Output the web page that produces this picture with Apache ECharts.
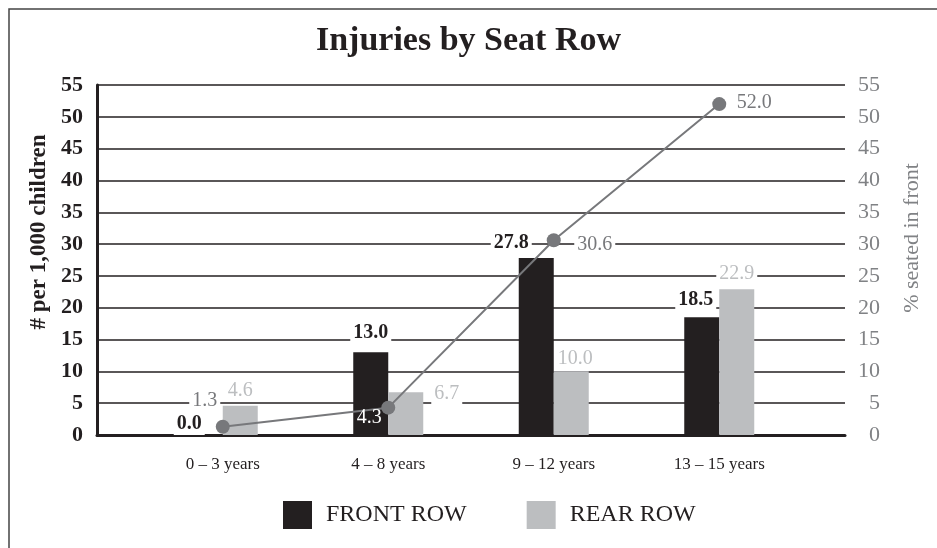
<!DOCTYPE html>
<html lang="en">
<head>
    <meta charset="utf-8">
    <title>Injuries by Seat Row</title>
    <script src="https://cdn.jsdelivr.net/npm/echarts@6/dist/echarts.min.js"></script>
    <style>
        html, body { margin: 0; padding: 0; background: #fff; }
        #chart { width: 937px; height: 548px; }
    </style>
</head>
<body>
    <div id="chart"></div>
    <script type="text/javascript">

    // data
    var categories = ['0 – 3 years', '4 – 8 years', '9 – 12 years', '13 – 15 years'];
    var frontRow = [0.0, 13.0, 27.8, 18.5];       // # per 1,000 children
    var rearRow = [4.6, 6.7, 10.0, 22.9];         // # per 1,000 children
    var seatedFront = [1.3, 4.3, 30.6, 52.0];     // % seated in front
    var axisMin = 0, axisMax = 55, axisStep = 5;

    var FONT = '"Liberation Serif", "DejaVu Serif", serif';
    var BLACK = '#231f20', LIGHT = '#bcbec0', MID = '#77787b';

    // label nudges, so the numbers sit where they are in the original
    var frontOffsets = [[-16, 4], [0, -4], [-25, 0], [-6, -2]];
    var rearOffsets = [[0, 0], [41, 16], [4, 2], [0, -1]];
    var lineOffsets = [[-18, -26], [-19, 10], [41, 4], [35, -1]];

    function fmt(p) { return p.value.toFixed(1); }

    var chart = echarts.init(document.getElementById('chart'));

    chart.setOption({
        animation: false,
        textStyle: { fontFamily: FONT },
        title: {
            text: 'Injuries by Seat Row',
            left: 'center',
            top: 19,
            textStyle: { fontFamily: FONT, fontSize: 34, fontWeight: 'bold', color: BLACK }
        },
        legend: {
            data: ['FRONT ROW', 'REAR ROW'],
            left: 278,
            top: 496,
            icon: 'rect',
            itemWidth: 29,
            itemHeight: 28,
            itemGap: 60,
            textStyle: { fontFamily: FONT, fontSize: 24, color: BLACK, padding: [0, 0, 0, 9] }
        },
        graphic: [{
            type: 'rect',
            shape: { x: 9, y: 9, width: 960, height: 560 },
            style: { fill: 'none', stroke: '#444', lineWidth: 1.5 },
            silent: true
        }],
        // outer grid carries the gridlines and both value axes, inner grid the bars
        grid: [
            { left: 97, right: 92, top: 85, bottom: 113 },
            { left: 140, right: 135, top: 85, bottom: 113 }
        ],
        xAxis: [{
            gridIndex: 0,
            type: 'value',
            min: 0,
            max: 1,
            axisLine: { show: true, lineStyle: { color: BLACK, width: 3 } },
            axisTick: { show: false },
            axisLabel: { show: false },
            splitLine: { show: false }
        }, {
            gridIndex: 1,
            type: 'category',
            data: categories,
            axisLine: { show: false },
            axisTick: { show: false },
            axisLabel: { margin: 21, fontFamily: FONT, fontSize: 17, color: BLACK }
        }],
        yAxis: [{
            gridIndex: 0,
            type: 'value',
            position: 'left',
            min: axisMin, max: axisMax, interval: axisStep,
            name: '# per 1,000 children',
            nameLocation: 'middle',
            nameRotate: 90,
            nameGap: 44,
            nameTextStyle: { fontFamily: FONT, fontSize: 23, fontWeight: 'bold', color: BLACK, padding: [0, 0, 0, 56] },
            axisLine: { show: true, lineStyle: { color: BLACK, width: 3 } },
            axisTick: { show: false },
            axisLabel: { margin: 14, fontFamily: FONT, fontSize: 22, fontWeight: 'bold', color: BLACK },
            splitLine: { show: true, lineStyle: { color: BLACK, width: 1.5 } }
        }, {
            gridIndex: 0,
            type: 'value',
            position: 'right',
            min: axisMin, max: axisMax, interval: axisStep,
            name: '% seated in front',
            nameLocation: 'middle',
            nameRotate: 90,
            nameGap: 56,
            nameTextStyle: { fontFamily: FONT, fontSize: 22, color: '#808285', padding: [0, 0, 0, 44] },
            axisLine: { show: false },
            axisTick: { show: false },
            axisLabel: { margin: 35, align: 'right', fontFamily: FONT, fontSize: 22, color: '#808285' },
            splitLine: { show: false }
        }, {
            gridIndex: 1,
            type: 'value',
            min: axisMin, max: axisMax, interval: axisStep,
            show: false
        }, {
            gridIndex: 1,
            type: 'value',
            min: axisMin, max: axisMax, interval: axisStep,
            show: false
        }],
        series: [{
            name: 'FRONT ROW',
            type: 'bar',
            xAxisIndex: 1,
            yAxisIndex: 2,
            barWidth: 35,
            barGap: '0%',
            itemStyle: { color: BLACK },
            data: frontRow.map(function (v, i) {
                return { value: v, label: { offset: frontOffsets[i] } };
            }),
            label: {
                show: true,
                position: 'top',
                distance: 4,
                formatter: fmt,
                fontFamily: FONT,
                fontSize: 20,
                fontWeight: 'bold',
                color: BLACK,
                backgroundColor: '#fff',
                padding: [1, 3]
            },
            z: 3
        }, {
            name: 'REAR ROW',
            type: 'bar',
            xAxisIndex: 1,
            yAxisIndex: 2,
            barWidth: 35,
            barGap: '0%',
            itemStyle: { color: LIGHT },
            data: rearRow.map(function (v, i) {
                return { value: v, label: { offset: rearOffsets[i] } };
            }),
            label: {
                show: true,
                position: 'top',
                distance: 4,
                formatter: fmt,
                fontFamily: FONT,
                fontSize: 20,
                color: LIGHT,
                backgroundColor: '#fff',
                padding: [1, 3]
            },
            z: 3
        }, {
            name: '% seated in front',
            type: 'line',
            xAxisIndex: 1,
            yAxisIndex: 3,
            symbol: 'circle',
            symbolSize: 14,
            lineStyle: { color: MID, width: 2 },
            itemStyle: { color: MID },
            data: seatedFront.map(function (v, i) {
                var lab = { offset: lineOffsets[i] };
                if (i === 1) { lab.color = '#fff'; lab.backgroundColor = 'transparent'; }
                return { value: v, label: lab };
            }),
            label: {
                show: true,
                position: 'inside',
                formatter: fmt,
                fontFamily: FONT,
                fontSize: 20,
                color: MID,
                backgroundColor: '#fff',
                padding: [1, 3]
            },
            z: 4
        }]
    });

    </script>
</body>
</html>
